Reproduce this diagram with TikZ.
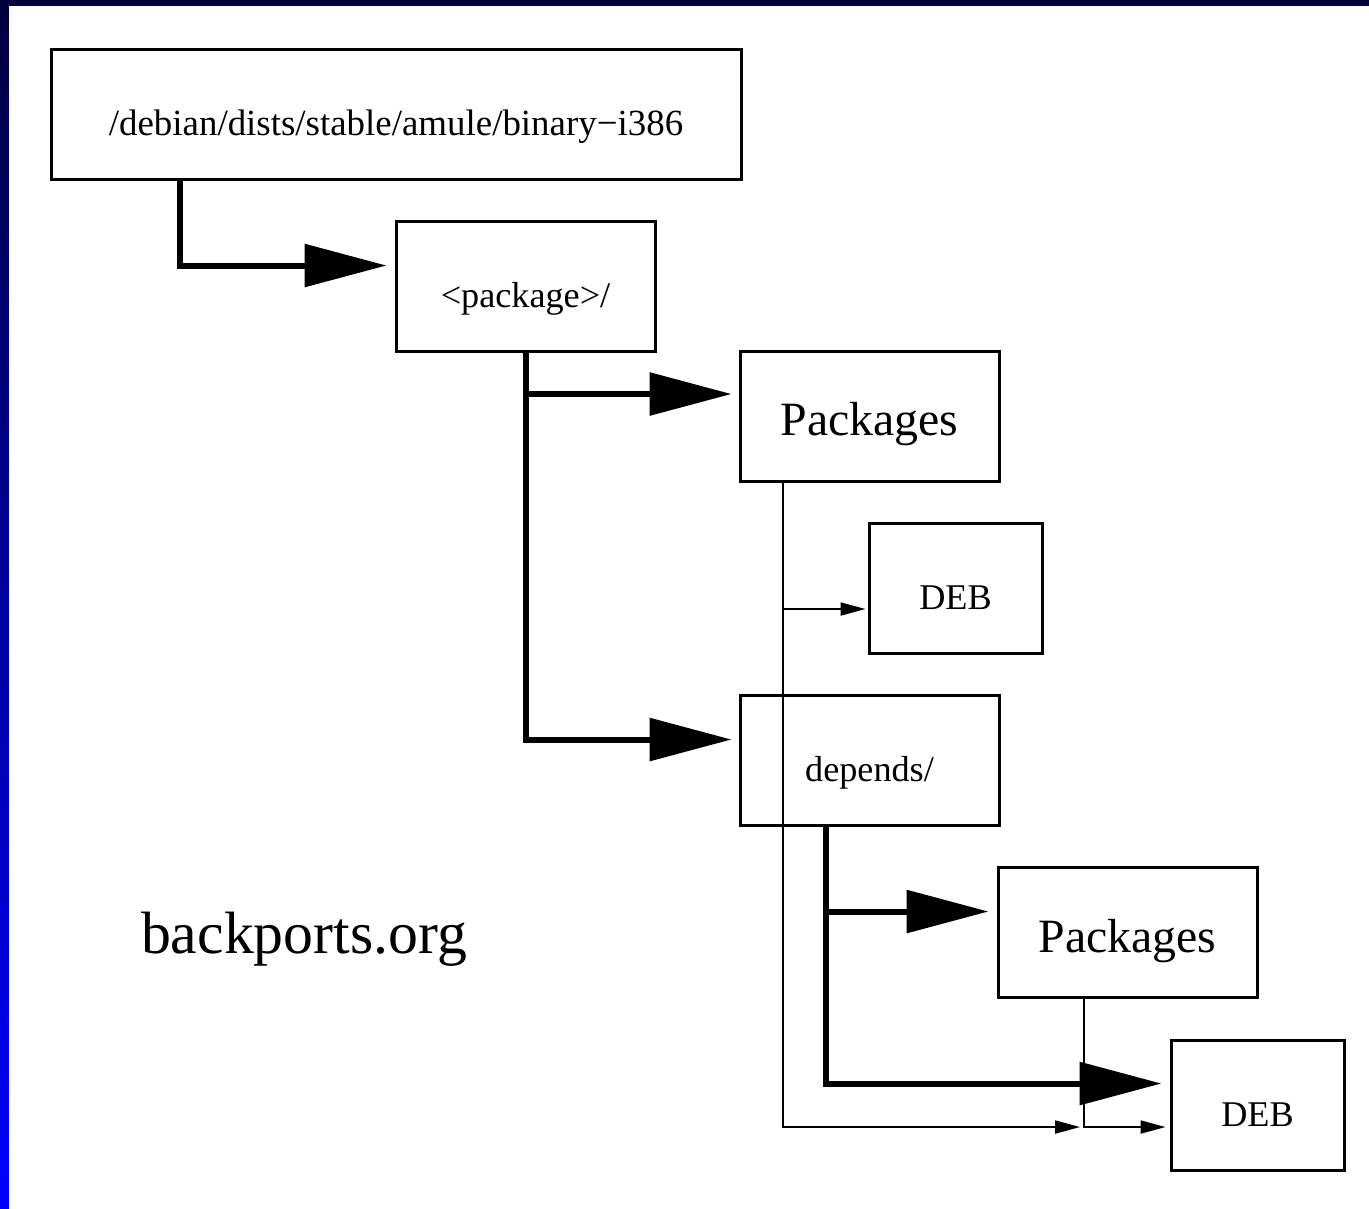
\documentclass[tikz,border=0pt]{standalone}
\usepackage{fontspec}
\setmainfont{Liberation Serif}
\usetikzlibrary{arrows.meta,positioning}
\definecolor{slidenavy}{RGB}{0,0,60}

\begin{document}
\begin{tikzpicture}[
  dirbox/.style={draw,line width=0.03cm,inner sep=0pt,minimum height=1.30cm,
    text height=0.42cm,text depth=0pt,font=\fontsize{10.3}{12}\selectfont},
  listbox/.style={dirbox,text height=0.39cm,font=\fontsize{13.6}{16}\selectfont},
  bigarrow/.style={line width=0.06cm,-{Triangle[length=0.82cm,width=0.42cm]},shorten >=0.08cm},
  smallarrow/.style={line width=0.02cm,-{Triangle[length=0.25cm,width=0.13cm]},shorten >=0.02cm}]
  %slide frame
  \useasboundingbox (0,0) rectangle (13.69,-12.08);
  \fill [white] (0,0) rectangle (13.69,-12.08);
  \shade [top color=slidenavy,bottom color=blue] (0,0) rectangle (0.09,-12.08);
  \fill [slidenavy] (0,0) rectangle (13.69,-0.06);
  %directory boxes
  \node [dirbox,minimum width=6.90cm,font=\fontsize{10.5}{12}\selectfont] (top) at (3.96,-1.14) {/debian/dists/stable/amule/binary−i386};
  \node [dirbox,minimum width=2.59cm] (pkgdir) at (5.255,-2.865) {<package>/};
  \node [listbox,minimum width=2.59cm] (pkgs1) at (8.695,-4.16) {Packages};
  \node [dirbox,minimum width=1.73cm] (deb1) at (9.555,-5.88) {DEB};
  \node [dirbox,minimum width=2.59cm] (deps) at (8.695,-7.605) {depends/};
  \node [listbox,minimum width=2.59cm] (pkgs2) at (11.275,-9.325) {Packages};
  \node [dirbox,minimum width=1.73cm] (deb2) at (12.575,-11.055) {DEB};
  \node [anchor=base,font=\fontsize{17}{20}\selectfont] (site) at (3.04,-9.53) {backports.org};
  %thick tree links
  \draw [bigarrow] ([xshift=1.30cm]top.south west) |- ([yshift=0.21cm]pkgdir.west);
  \draw [bigarrow,shorten >=0.07cm] (pkgdir.south) |- ([yshift=0.22cm]pkgs1.west);
  \draw [bigarrow,shorten >=0.07cm] (pkgdir.south) |- ([yshift=0.21cm]deps.west);
  \draw [bigarrow] ([xshift=0.87cm]deps.south west) |- ([yshift=0.21cm]pkgs2.west);
  \draw [bigarrow] ([xshift=0.87cm]deps.south west) |- ([yshift=0.22cm]deb2.west);
  %thin index links
  \coordinate (meet) at (10.85,-11.27);
  \draw [smallarrow] ([xshift=0.44cm]pkgs1.south west) |- ([yshift=-0.21cm]deb1.west);
  \draw [smallarrow,shorten >=0.05cm] ([xshift=0.44cm]pkgs1.south west) |- (meet);
  \draw [smallarrow,shorten >=0.04cm] ([xshift=0.87cm]pkgs2.south west) |- ([yshift=-0.215cm]deb2.west);
\end{tikzpicture}
\end{document}
